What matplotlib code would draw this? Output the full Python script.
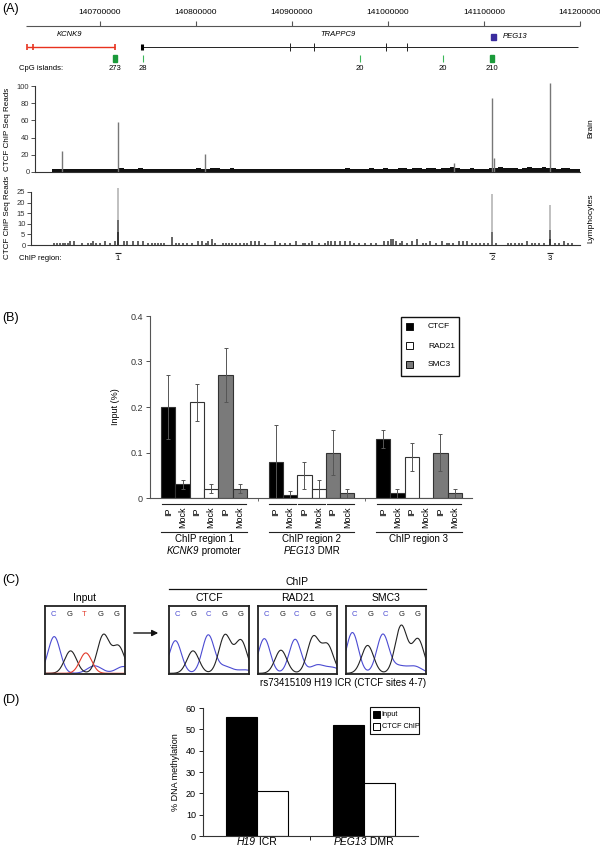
import numpy as np
import matplotlib
matplotlib.use('Agg')
import matplotlib.pyplot as plt
from matplotlib.patches import Rectangle
from matplotlib.transforms import blended_transform_factory
from matplotlib.offsetbox import TextArea, HPacker, AnnotationBbox

plt.rcParams['font.family'] = ['Liberation Sans', 'DejaVu Sans']

W, H = 600, 847

# ---------------- panel A data (positions in kb) ----------------
axis_ticks = [140700, 140800, 140900, 141000, 141100, 141200]
kcnk9_marks = [140624, 140630, 140715.6]
trappc9_span = [140744, 141198]
trappc9_exons = [140898, 140922.4, 140998, 141019.3]
peg13_pos = 141110
cpg_pos = [140715.6, 140744.8, 140970.8, 141056.8, 141108.3]
cpg_size = [273, 28, 20, 20, 210]
cpg_wide = [True, False, False, False, True]

# brain background, 5 kb bins starting at 140650 kb
brain_start = 140650
brain_bg = [3, 3, 4, 3, 3, 4, 3, 4, 3, 3,
            4, 3, 4, 4, 5, 4, 3, 4, 5, 4,
            3, 3, 4, 3, 3, 4, 4, 3, 3, 4,
            5, 4, 4, 5, 5, 4, 4, 5, 4, 4,
            4, 3, 4, 4, 3, 4, 4, 3, 4, 4,
            3, 4, 4, 3, 4, 4, 4, 3, 4, 4,
            4, 5, 4, 4, 4, 4, 5, 4, 4, 5,
            4, 4, 5, 5, 4, 5, 5, 4, 5, 5,
            4, 5, 5, 6, 5, 4, 4, 5, 4, 4,
            4, 5, 5, 6, 5, 5, 5, 4, 5, 6,
            5, 5, 6, 5, 5, 4, 5, 5, 4, 4]
brain_peak_pos = [140659.9, 140718.4, 140809.3, 141068.5, 141108.6, 141110.6, 141168.7]
brain_peak_val = [24, 58, 21, 10, 86, 16, 103]

lym_pos = [140652, 140655, 140658, 140661, 140664, 140667, 140669, 140673, 140681, 140688,
           140691, 140693, 140696, 140700, 140705, 140710, 140716, 140725, 140728, 140734,
           140740, 140745, 140750, 140754, 140757, 140760, 140764, 140767, 140775, 140779,
           140782, 140786, 140791, 140796, 140802, 140806, 140810, 140812, 140817, 140820,
           140828, 140831, 140834, 140838, 140842, 140846, 140850, 140853, 140857, 140861,
           140866, 140872, 140882, 140888, 140893, 140898, 140904, 140911, 140914, 140918,
           140921, 140928, 140934, 140937, 140941, 140945, 140950, 140955, 140960, 140965,
           140970, 140976, 140982, 140988, 140996, 141000, 141003, 141005, 141008, 141012,
           141015, 141020, 141025, 141030, 141036, 141040, 141044, 141050, 141056, 141061,
           141064, 141068, 141074, 141078, 141082, 141088, 141092, 141096, 141100, 141104,
           141112, 141125, 141128, 141132, 141136, 141140, 141145, 141150, 141153, 141157,
           141162, 141174, 141178, 141183, 141188, 141192]
lym_val = [1, 1, 1, 1, 1, 1, 2, 2, 1, 1,
           1, 2, 1, 1, 2, 1, 2, 2, 2, 2,
           2, 2, 1, 1, 1, 1, 1, 1, 4, 1,
           1, 1, 1, 1, 2, 2, 1, 2, 3, 1,
           1, 1, 1, 1, 1, 1, 1, 1, 2, 2,
           2, 1, 2, 1, 1, 1, 2, 1, 1, 1,
           2, 1, 1, 2, 2, 2, 2, 2, 2, 1,
           1, 1, 1, 1, 2, 2, 3, 3, 2, 1,
           2, 1, 2, 3, 1, 1, 2, 1, 2, 1,
           1, 1, 2, 2, 2, 1, 1, 1, 1, 1,
           1, 1, 1, 1, 1, 1, 2, 1, 1, 1,
           1, 1, 1, 2, 1, 1]
lym_peak_pos = [140718.4, 141108.6, 141168.7]
lym_peak_hi = [27, 24, 19]
lym_peak_mid = [12, 6, 7]
lym_peak_lo = [6, 0, 3]
chip_regions = [140718.4, 141108.6, 141168.7]
chip_labels = ['1', '2', '3']

# ---------------- panel B data ----------------
region_names = ['ChIP region 1', 'ChIP region 2', 'ChIP region 3']
region_subs = [('KCNK9', ' promoter'), ('PEG13', ' DMR'), None]
antibodies = ['CTCF', 'RAD21', 'SMC3']
ab_colors = ['#000000', '#ffffff', '#7a7a7a']
ip_vals = [[0.20, 0.21, 0.27], [0.08, 0.05, 0.10], [0.13, 0.09, 0.10]]
ip_err = [[0.07, 0.04, 0.06], [0.08, 0.03, 0.05], [0.02, 0.03, 0.04]]
mock_vals = [[0.03, 0.02, 0.02], [0.006, 0.02, 0.01], [0.01, 0.0, 0.01]]
mock_err = [[0.01, 0.01, 0.01], [0.01, 0.02, 0.01], [0.01, 0.0, 0.01]]

# ---------------- panel C data ----------------
chrom_names = ['Input', 'CTCF', 'RAD21', 'SMC3']
chrom_bases = ['CGTGG', 'CGCGG', 'CGCGG', 'CGCGG']
base_x = [0.1, 0.31, 0.49, 0.69, 0.89]
peak_x = [[0.115, 0.32, 0.51, 0.73, 0.92],
          [0.08, 0.30, 0.49, 0.70, 0.90],
          [0.08, 0.29, 0.47, 0.70, 0.88],
          [0.08, 0.27, 0.46, 0.69, 0.90]]
peak_h = [[0.54, 0.33, 0.30, 0.56, 0.39],
          [0.48, 0.33, 0.56, 0.56, 0.48],
          [0.51, 0.34, 0.50, 0.53, 0.41],
          [0.60, 0.41, 0.57, 0.70, 0.50]]
tail_x = [[0.62, 0.98], [0.70, 0.95], [0.75, 0.95], [0.66, 0.86]]
tail_h = [[0.11, 0.10], [0.10, 0.05], [0.12, 0.08], [0.10, 0.10]]

# ---------------- panel D data ----------------
meth_cats = [('H19', ' ICR'), ('PEG13', ' DMR')]
meth_input = [56, 52]
meth_chip = [21, 25]

base_colors = {'C': '#4b4bd2', 'G': '#222222', 'T': '#e23a2a'}


def kb(px):
    return 140700 + (px - 100) * 100 / 96


fig = plt.figure(figsize=(6, 8.47), dpi=100)


def px_axes(l, t, r, b):
    a = fig.add_axes([l / W, 1 - b / H, (r - l) / W, (b - t) / H])
    a.patch.set_alpha(0)
    return a


ov = fig.add_axes([0, 0, 1, 1])
ov.set_xlim(0, W)
ov.set_ylim(H, 0)
ov.axis('off')
ov.patch.set_alpha(0)

axk = fig.add_axes([0, 0, 1, 1])
axk.set_xlim(kb(0), kb(W))
axk.set_ylim(H, 0)
axk.axis('off')
axk.patch.set_alpha(0)


def mixed(x, y, italic, plain, trans, fs):
    # italic gene name followed by plain text, centred on (x, y)
    parts = [TextArea(italic, textprops=dict(fontsize=fs, style='italic')),
             TextArea(plain, textprops=dict(fontsize=fs))]
    pack = HPacker(children=parts, align='baseline', pad=0, sep=0)
    ov.add_artist(AnnotationBbox(pack, (x, y), xycoords=trans, frameon=False,
                                 box_alignment=(0.5, 0.5), pad=0))


for lab, y in [('(A)', 9), ('(B)', 318), ('(C)', 580), ('(D)', 700)]:
    ov.text(2, y, lab, fontsize=9, va='center', ha='left')

# ---------------- panel A ----------------
axk.hlines(26, kb(26), axis_ticks[-1], color='#555', lw=0.8)
axk.vlines(axis_ticks, 21, 26, color='#555', lw=0.8)
for t in axis_ticks:
    axk.text(t, 13, str(t * 1000), ha='center', va='center', fontsize=6)

axk.hlines(47, kcnk9_marks[0], kcnk9_marks[-1], color='#e8321e', lw=1)
axk.vlines(kcnk9_marks, 44, 50, color='#e8321e', lw=1.2)
axk.text(kb(70), 34, 'KCNK9', style='italic', fontsize=5.5, ha='center', va='center')

axk.hlines(47, trappc9_span[0], trappc9_span[1], color='#222', lw=0.7)
axk.vlines(trappc9_span[0], 44, 50, color='#000', lw=2.2)
axk.vlines(trappc9_exons, 43, 51, color='#222', lw=0.7)
axk.text(kb(338), 34, 'TRAPPC9', style='italic', fontsize=5.5, ha='center', va='center')

axk.add_patch(Rectangle((peg13_pos - 2.5, 34), 5, 6, color='#3a2c9e'))
axk.text(kb(515), 37, 'PEG13', style='italic', fontsize=5.5, ha='center', va='center')

for p, s, wide in zip(cpg_pos, cpg_size, cpg_wide):
    if wide:
        axk.add_patch(Rectangle((p - 2, 55), 4, 7, color='#1a9a3a'))
    else:
        axk.vlines(p, 55, 62, color='#3cb85a', lw=0.8)
    axk.text(p, 68, str(s), ha='center', va='center', fontsize=5.5)
ov.text(19, 68, 'CpG islands:', ha='left', va='center', fontsize=5.5)

# brain track
axb = px_axes(35, 82.6, 580, 172)
axb.set_xlim(kb(35), kb(580))
axb.set_ylim(0, 104)
bx = brain_start + 5 * np.arange(len(brain_bg))
axb.bar(bx, brain_bg, width=5, align='edge', color='#111', lw=0)
axb.vlines(brain_peak_pos, 0, brain_peak_val, color='#777', lw=1)

# lymphocyte track
axl = px_axes(31, 185.6, 580, 245)
axl.set_xlim(kb(31), kb(580))
axl.set_ylim(0, 28)
axl.vlines(lym_pos, 0, lym_val, color='#555', lw=1.3)
axl.vlines(lym_peak_pos, 0, lym_peak_hi, color='#bbb', lw=1.3)
axl.vlines(lym_peak_pos, 0, lym_peak_mid, color='#666', lw=1.3)
axl.vlines(lym_peak_pos, 0, lym_peak_lo, color='#333', lw=1.3)

for a, top, step in [(axb, 100, 20), (axl, 25, 5)]:
    for s in ['top', 'right']:
        a.spines[s].set_visible(False)
    a.spines['left'].set_bounds(0, top)
    for s in ['left', 'bottom']:
        a.spines[s].set_color('#333')
        a.spines[s].set_linewidth(0.8)
    a.set_xticks([])
    a.set_yticks(range(0, top + 1, step))
    a.tick_params(axis='y', labelsize=5.5, length=3, width=0.6, pad=1, colors='#333')

ov.text(8, 129, 'CTCF ChIP Seq Reads', rotation=90, ha='center', va='center', fontsize=5.8)
ov.text(8, 217, 'CTCF ChIP Seq Reads', rotation=90, ha='center', va='center', fontsize=5.8)
ov.text(591, 128, 'Brain', rotation=90, ha='center', va='center', fontsize=6)
ov.text(591, 218, 'Lymphocytes', rotation=90, ha='center', va='center', fontsize=6)

ov.text(19, 259, 'ChIP region:', ha='left', va='center', fontsize=5.5)
for p, lab in zip(chip_regions, chip_labels):
    axk.hlines(253, p - 3, p + 3, color='#222', lw=0.8)
    axk.text(p, 258.5, lab, ha='center', va='center', fontsize=5.5)

# ---------------- panel B ----------------
axB = px_axes(150, 316, 472, 498)
axB.set_ylim(0, 0.4)
axB.set_xlim(-0.77, 21.7)
for r in range(3):
    for a in range(3):
        x0 = r * 7.5 + a * 2
        axB.bar([x0, x0 + 1], [ip_vals[r][a], mock_vals[r][a]], width=1, align='edge',
                color=ab_colors[a], edgecolor='#333', lw=0.8, zorder=2)
        for xx, v, e in [(x0 + 0.5, ip_vals[r][a], ip_err[r][a]),
                         (x0 + 1.5, mock_vals[r][a], mock_err[r][a])]:
            if e > 0:
                axB.errorbar(xx, v, yerr=e, color='#555', lw=0.7, capsize=1.5,
                             capthick=0.7, zorder=3)
for s in ['top', 'right']:
    axB.spines[s].set_visible(False)
for s in ['left', 'bottom']:
    axB.spines[s].set_color('#555')
    axB.spines[s].set_linewidth(0.8)
axB.set_yticks([0, 0.1, 0.2, 0.3, 0.4])
axB.set_yticklabels(['0', '0.1', '0.2', '0.3', '0.4'])
axB.set_xticks([6.75, 14.25])
axB.set_xticklabels([])
axB.tick_params(axis='y', labelsize=6.5, length=3, width=0.6, pad=2, colors='#333')
axB.tick_params(axis='x', length=2.5, width=0.6, colors='#555')
ov.text(116, 407, 'Input (%)', rotation=90, ha='center', va='center', fontsize=6.5)

trB = blended_transform_factory(axB.transData, ov.transData)
for r in range(3):
    for a in range(3):
        x0 = r * 7.5 + a * 2
        ov.plot([x0 + 0.05, x0 + 1.95], [504, 504], color='#222', lw=0.8,
                transform=trB, clip_on=False)
        ov.text(x0 + 0.5, 507, 'IP', rotation=90, ha='center', va='top',
                fontsize=6.5, transform=trB)
        ov.text(x0 + 1.5, 507, 'Mock', rotation=90, ha='center', va='top',
                fontsize=6.5, transform=trB)
    xr = r * 7.5
    ov.plot([xr, xr + 6], [532, 532], color='#222', lw=0.8, transform=trB, clip_on=False)
    ov.text(xr + 3, 539, region_names[r], ha='center', va='center', fontsize=7, transform=trB)
    if region_subs[r]:
        mixed(xr + 3, 551, region_subs[r][0], region_subs[r][1], trB, 7)

# legend B
ov.add_patch(Rectangle((401, 317), 58, 59, fill=False, ec='#111', lw=1))
for i, (name, c) in enumerate(zip(antibodies, ab_colors)):
    y = 327 + i * 19
    ov.add_patch(Rectangle((406, y - 3.5), 7, 7, fc=c, ec='#111', lw=0.7))
    ov.text(428, y, name, ha='left', va='center', fontsize=6)

# ---------------- panel C ----------------
chrom_lr = [(45, 125), (169, 249), (258, 337), (346, 426)]
xs = np.linspace(0, 1, 300)
for i, name in enumerate(chrom_names):
    l, r = chrom_lr[i]
    ax = px_axes(l, 606, r, 674)
    ax.set_xlim(0, 1)
    ax.set_ylim(0, 1)
    ax.set_xticks([])
    ax.set_yticks([])
    for s in ax.spines.values():
        s.set_linewidth(1.3)
        s.set_color('#222')
    traces = {}
    for b, cx, h in zip(chrom_bases[i], peak_x[i], peak_h[i]):
        c = base_colors[b]
        traces.setdefault(c, np.zeros_like(xs))
        traces[c] += h * np.exp(-0.5 * ((xs - cx) / 0.075) ** 2)
    for cx, h in zip(tail_x[i], tail_h[i]):
        traces[base_colors['C']] += h * np.exp(-0.5 * ((xs - cx) / 0.09) ** 2)
    for c, ys in traces.items():
        ax.plot(xs, ys + 0.01, color=c, lw=0.8)
    for b, cx in zip(chrom_bases[i], base_x):
        ax.text(cx, 0.87, b, color=base_colors[b], fontsize=5.5, ha='center', va='center')
    ov.text((l + r) / 2, 598, name, ha='center', va='center', fontsize=7.5)

ov.text(297, 582, 'ChIP', ha='center', va='center', fontsize=7.5)
ov.plot([169, 426], [589.5, 589.5], color='#111', lw=0.9)
ov.annotate('', xy=(161, 633), xytext=(131, 633),
            arrowprops=dict(arrowstyle='-|>', color='#111', lw=1, mutation_scale=9))
ov.text(426, 683, 'rs73415109 H19 ICR (CTCF sites 4-7)', ha='right', va='center', fontsize=7)

# ---------------- panel D ----------------
axD = px_axes(203, 708, 418, 836)
axD.set_ylim(0, 60)
axD.set_xlim(0, 6.94)
cat_left = [0.74, 4.19]
axD.bar(cat_left, meth_input, width=1, align='edge', color='#000', ec='#000', lw=0.8)
axD.bar([c + 1 for c in cat_left], meth_chip, width=1, align='edge', color='#fff', ec='#000', lw=0.8)
for s in ['top', 'right']:
    axD.spines[s].set_visible(False)
for s in ['left', 'bottom']:
    axD.spines[s].set_color('#333')
    axD.spines[s].set_linewidth(0.8)
axD.set_yticks(range(0, 61, 10))
axD.set_xticks([3.45])
axD.set_xticklabels([])
axD.tick_params(axis='y', labelsize=6.5, length=3, width=0.6, pad=2)
axD.tick_params(axis='x', length=3, width=0.6)
trD = blended_transform_factory(axD.transData, ov.transData)
for c, (it, pl) in zip(cat_left, meth_cats):
    mixed(c + 1, 842, it, pl, trD, 7.5)
ov.text(176, 772, '% DNA methylation', rotation=90, ha='center', va='center', fontsize=6.5)

ov.add_patch(Rectangle((370, 707), 49, 27, fill=False, ec='#111', lw=0.8))
for i, (lab, c) in enumerate([('Input', '#000'), ('CTCF ChIP', '#fff')]):
    y = 714.5 + i * 12.5
    ov.add_patch(Rectangle((373, y - 3.5), 7, 7, fc=c, ec='#000', lw=0.7))
    ov.text(381.5, y, lab, ha='left', va='center', fontsize=5.3)

fig.savefig('out.png', dpi=100)
